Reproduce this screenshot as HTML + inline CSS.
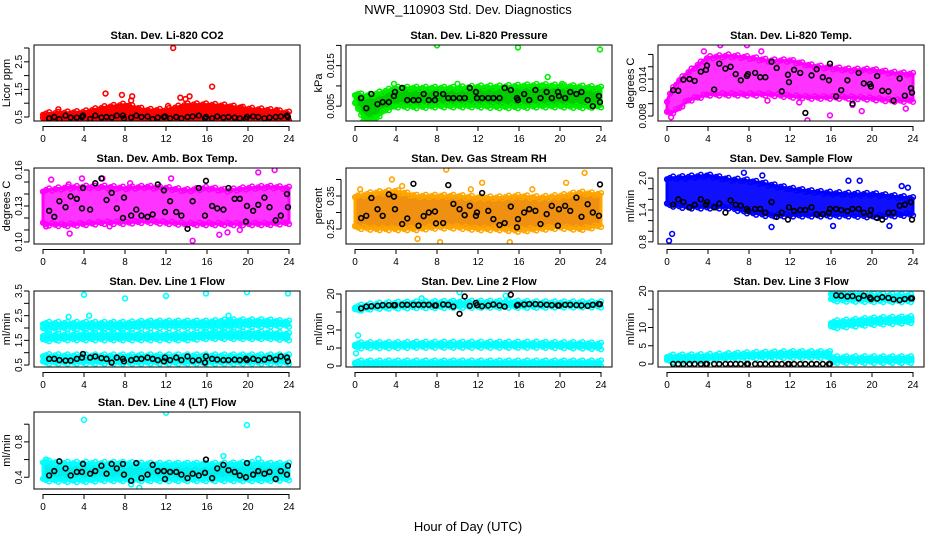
<!DOCTYPE html>
<html><head><meta charset="utf-8"><style>
html,body{margin:0;padding:0;background:#fff}
svg{display:block;font-family:"Liberation Sans",sans-serif}
</style></head><body>
<svg id="chart" width="936" height="540" viewBox="0 0 936 540">
<text x="468" y="14" text-anchor="middle" font-size="13">NWR_110903  Std. Dev. Diagnostics</text>
<text x="468" y="531" text-anchor="middle" font-size="13">Hour of Day (UTC)</text>
</svg>
<script>
const NS="http://www.w3.org/2000/svg";
const svg=document.getElementById('chart');
const xTicks=[0,4,8,12,16,20,24];
const H2=[0,2,4,6,8,10,12,14,16,18,20,22,24];
const H16=[0,0.4,1,2,3,4,6,8,10,12,14,16,18,20,22,24];
const blackHours=[0.6,1.1,1.6,2.2,2.7,3.3,3.8,3.9,4.6,5.1,5.7,6.2,6.7,7.2,7.8,7.9,8.6,9.1,9.6,10.2,10.7,11.2,11.8,11.9,12.4,13.0,13.5,14.1,14.6,15.2,15.8,15.9,16.5,17.0,17.6,18.1,18.7,19.2,19.8,19.9,20.5,21.0,21.6,22.1,22.7,23.2,23.8,23.9];

// Panel 1 CO2
const co2Low=[0.42,0.42,0.42,0.42,0.42,0.42,0.42,0.42,0.42,0.42,0.42,0.42,0.42];
const co2High=[0.62,0.65,0.68,0.85,0.95,0.75,0.75,0.95,0.95,0.9,0.8,0.75,0.65];
const co2Out=[[12.7,3.0],[6.1,1.35],[7.7,1.3],[8.7,1.25],[8.6,1.1],[13.4,1.2],[14.3,1.25],[13.9,1.15],[16.5,1.6],[1.5,0.78],[12.2,0.9],[7.9,0.35],[23.9,0.38],[22.8,0.75],[19.3,0.85]];
const co2Black=[0.45,0.5,0.42,0.55,0.48,0.48,0.5,0.55,0.43,0.55,0.48,0.5,0.48,0.55,0.55,0.45,0.48,0.55,0.5,0.52,0.42,0.48,0.5,0.52,0.45,0.5,0.45,0.5,0.52,0.55,0.45,0.5,0.45,0.52,0.48,0.5,0.48,0.45,0.43,0.5,0.52,0.5,0.45,0.48,0.5,0.52,0.55,0.5];
// Panel 2 pressure
const presLow=[0.0055,0.004,0.0015,0.002,0.004,0.005,0.0048,0.005,0.005,0.005,0.0048,0.0048,0.005,0.005,0.0048,0.005];
const presHigh=[0.008,0.008,0.0075,0.008,0.0088,0.0095,0.0095,0.0095,0.0095,0.0098,0.0098,0.01,0.0102,0.01,0.0098,0.0095];
const presOut=[[8,0.02],[15.9,0.0195],[23.9,0.019],[18.8,0.0122],[3.8,0.0105],[10,0.0105],[20.2,0.0105],[0.8,0.0012],[1.9,0.0015]];
const presBlack=[0.007,0.0045,0.008,0.0055,0.006,0.006,0.0075,0.0085,0.0095,0.0065,0.0065,0.0065,0.008,0.0065,0.0065,0.008,0.008,0.007,0.007,0.007,0.007,0.0095,0.0085,0.007,0.007,0.007,0.007,0.007,0.0095,0.009,0.007,0.0065,0.008,0.0065,0.009,0.007,0.0085,0.007,0.0085,0.0075,0.007,0.0085,0.008,0.0085,0.0065,0.005,0.0075,0.006];
// Panel 3 Li-820 temp
const tempLow=[0.0085,0.0085,0.009,0.0105,0.011,0.0115,0.0115,0.0115,0.0115,0.0112,0.011,0.011,0.011,0.0108,0.0105,0.0105];
const tempHigh=[0.0105,0.012,0.0135,0.015,0.0163,0.0175,0.0178,0.0175,0.017,0.017,0.0162,0.0158,0.0155,0.0155,0.015,0.0148];
const tempOut=[[5.2,0.0195],[7.8,0.0195],[3.6,0.0185],[9.2,0.0185],[13.7,0.0073],[15.9,0.0081],[0.4,0.0078],[18.1,0.0098],[23.3,0.0092],[9.8,0.0105],[19,0.0088],[12.9,0.0102]];
const tempBlack=[0.0122,0.0121,0.0139,0.014,0.0137,0.0152,0.0155,0.0162,0.0123,0.0165,0.0157,0.016,0.0148,0.0138,0.0145,0.0148,0.015,0.0143,0.0143,0.0168,0.0158,0.012,0.0147,0.0135,0.0155,0.015,0.0085,0.0146,0.0156,0.0143,0.0138,0.0165,0.0112,0.0122,0.0138,0.01,0.015,0.0133,0.0132,0.0128,0.0145,0.0121,0.012,0.0105,0.0141,0.0113,0.0125,0.0118];
// Panel 4 amb box temp
const ambLow=[0.115,0.114,0.115,0.116,0.116,0.117,0.116,0.115,0.115,0.115,0.115,0.115,0.116];
const ambHigh=[0.143,0.145,0.146,0.146,0.145,0.146,0.145,0.143,0.145,0.143,0.145,0.146,0.145];
const ambOut=[[0.8,0.152],[2.5,0.148],[3.8,0.153],[5.8,0.153],[8.5,0.149],[12.5,0.153],[21,0.158],[22.6,0.16],[2.6,0.107],[14.6,0.101],[17.2,0.106],[18,0.108],[19.2,0.11],[6.5,0.113],[0.3,0.113]];
const ambBlack=[0.126,0.121,0.134,0.129,0.138,0.136,0.128,0.145,0.127,0.149,0.153,0.135,0.141,0.128,0.12,0.137,0.122,0.127,0.122,0.121,0.123,0.148,0.143,0.125,0.134,0.125,0.122,0.111,0.134,0.145,0.122,0.151,0.13,0.128,0.127,0.145,0.136,0.136,0.117,0.13,0.126,0.131,0.137,0.129,0.118,0.122,0.14,0.129];
// Panel 5 RH
const rhLow=[0.255,0.25,0.25,0.25,0.255,0.255,0.25,0.25,0.245,0.25,0.255,0.25,0.26];
const rhHigh=[0.35,0.36,0.365,0.35,0.35,0.35,0.345,0.345,0.35,0.345,0.35,0.36,0.355];
const rhOut=[[8.9,0.43],[8.3,0.21],[22.4,0.42],[12.4,0.39],[3.6,0.4],[0.5,0.37],[6.1,0.22],[15.1,0.21],[17.3,0.37],[20.6,0.39],[4.6,0.38],[11.3,0.37]];
const rhBlack=[0.283,0.29,0.344,0.31,0.29,0.355,0.348,0.31,0.265,0.282,0.387,0.26,0.289,0.3,0.303,0.267,0.268,0.383,0.326,0.31,0.292,0.32,0.29,0.3,0.359,0.305,0.28,0.262,0.268,0.318,0.255,0.28,0.3,0.31,0.305,0.265,0.295,0.32,0.26,0.31,0.32,0.305,0.345,0.287,0.325,0.3,0.29,0.385];
// Panel 6 sample flow
const sfLow=[1.5,1.45,1.45,1.45,1.35,1.3,1.3,1.3,1.3,1.3,1.28,1.3,1.32];
const sfHigh=[2.0,2.02,2.05,1.98,1.95,1.88,1.8,1.75,1.72,1.7,1.7,1.66,1.62];
const sfOut=[[0.2,0.82],[0.5,0.95],[10.2,1.08],[7.5,2.1],[9.3,2.05],[17.7,1.95],[18.8,1.95],[22.9,1.85],[16.2,1.1],[21.7,1.1],[23.5,1.82]];
const sfBlack=[1.5,1.6,1.55,1.45,1.5,1.6,1.5,1.55,1.45,1.52,1.35,1.58,1.5,1.48,1.42,1.38,1.42,1.42,1.35,1.55,1.27,1.35,1.22,1.45,1.38,1.4,1.4,1.45,1.32,1.32,1.35,1.42,1.42,1.4,1.38,1.42,1.42,1.35,1.3,1.4,1.25,1.22,1.35,1.35,1.48,1.5,1.55,1.22];
// Panel 7 line 1 flow
const l1TopLow=[1.95,2.0,2.0,2.0,2.0,2.05,2.05,2.05,2.05,2.05,2.1,2.1,2.1];
const l1TopHigh=[2.2,2.2,2.2,2.2,2.2,2.25,2.25,2.25,2.25,2.3,2.3,2.3,2.25];
const l1MidLow=[1.5,1.55,1.55,1.55,1.55,1.55,1.55,1.55,1.6,1.6,1.6,1.6,1.55];
const l1MidHigh=[1.72,1.72,1.75,1.75,1.75,1.75,1.75,1.75,1.8,1.8,1.82,1.8,1.75];
const l1BotLow=[0.6,0.6,0.6,0.6,0.6,0.6,0.6,0.6,0.6,0.6,0.6,0.6,0.6];
const l1BotHigh=[0.9,0.88,0.88,0.88,0.88,0.88,0.88,0.88,0.88,0.88,0.88,0.88,0.88];
const l1Out=[[4,3.35],[8,3.2],[12,3.3],[15.9,3.4],[19.9,3.45],[23.9,3.4],[2.5,2.45],[4.5,2.5],[18.1,2.5],[0.1,1.65],[0.2,2.1]];
const l1Black=[0.75,0.75,0.7,0.68,0.68,0.75,0.8,0.95,0.8,0.85,0.78,0.75,0.6,0.8,0.75,0.65,0.7,0.75,0.75,0.8,0.75,0.7,0.65,0.8,0.7,0.8,0.7,0.85,0.68,0.7,0.6,0.85,0.75,0.72,0.7,0.7,0.72,0.7,0.75,0.7,0.75,0.7,0.72,0.78,0.72,0.85,0.8,0.65];
// Panel 8 line 2 flow
const l2TopLow=[15.5,16.2,16.3,16.4,16.4,16.5,16.5,16.5,16.5,16.5,16.6,16.6,16.6];
const l2TopHigh=[16.5,17.2,17.5,17.6,17.7,17.8,17.8,17.8,17.8,17.6,17.6,17.6,17.6];
const l2MidLow=[5.2,5.3,5.3,5.4,5.4,5.4,5.4,5.4,5.4,5.4,5.3,5.2,5.0];
const l2MidHigh=[6.2,6.3,6.3,6.4,6.4,6.4,6.4,6.4,6.4,6.4,6.3,6.3,6.1];
const l2BotLow=[0.3,0.3,0.3,0.3,0.3,0.3,0.3,0.3,0.3,0.3,0.3,0.3,0.3];
const l2BotHigh=[1.2,1.2,1.2,1.2,1.2,1.2,1.2,1.2,1.2,1.2,1.2,1.2,1.2];
const l2Out=[[0.3,8.5],[0.1,3.5],[10.2,20.5],[14.7,19.5],[6.5,18.8]];
const l2Black=[16,16.5,16.6,16.7,16.9,16.9,16.9,16.9,17,17,17,17,17,17,16.8,16.8,17.1,17,16.5,14.5,19.3,16.7,17.5,16.9,16.6,16.8,17.1,16.8,16.5,19.8,16.8,17,17.1,17.2,17.2,17.1,17,16.9,16.8,16.8,17,17,16.9,16.8,16.7,17,17.2,17.2];
// Panel 9 line 3 flow
const l3EarlyHours=[0,4,8,12,16];
const l3LateHours=[16,20,24];
const l3ALow=[0.8,1.3,1.8,2.0,2.0];
const l3AHigh=[2.2,2.4,2.9,3.2,3.2];
const l3BLow=[0.6,0.6,0.6];
const l3BHigh=[1.8,1.8,1.8];
const l3CLow=[10,11,11.6];
const l3CHigh=[11.5,12.4,12.8];
const l3DLow=[17.5,17.3,17.3];
const l3DHigh=[19.5,19.0,18.8];
const l3Out=[];
const l3Black=[0,0,0,0,0,0,0,0,0,0,0,0,0,0,0,0,0,0,0,0,0,0,0,0,0,0,0,0,0,0,0,0,18.8,18.7,18.5,18.6,18,18.7,18.2,17.8,17.9,18.3,18.1,17.7,17.5,17.8,18,18];
// Panel 10 line 4 flow
const l4Low=[0.37,0.36,0.36,0.37,0.37,0.37,0.37,0.37,0.37,0.37,0.37,0.37,0.38];
const l4High=[0.58,0.56,0.56,0.56,0.56,0.55,0.55,0.55,0.55,0.55,0.56,0.55,0.55];
const l4Out=[[4,1.05],[12,1.13],[19.9,0.99],[9.4,0.28],[17.6,0.64],[21,0.61],[0.3,0.6],[8.6,0.32]];
const l4Black=[0.42,0.47,0.58,0.5,0.42,0.46,0.46,0.55,0.44,0.47,0.53,0.44,0.55,0.5,0.55,0.43,0.36,0.56,0.39,0.43,0.54,0.47,0.47,0.38,0.46,0.46,0.43,0.39,0.44,0.42,0.45,0.6,0.39,0.5,0.54,0.48,0.46,0.42,0.4,0.56,0.43,0.47,0.44,0.46,0.38,0.47,0.43,0.53];

const boxTop=[45,168,291,412], boxBot=[121,244,367,489];
const panels=[
 {name:'co2',title:'Stan. Dev. Li-820 CO2',ylab:'Licor ppm',r:0,c:0,ymin:0.355,ymax:3.109,ticks:[0.5,1,1.5,2,2.5,3],labels:[0.5,1.5,2.5],col:'#ff0000',fill:'#ff0000',
  bands:[[H2,co2Low,co2High]],out:co2Out,black:co2Black},
 {name:'pressure',title:'Stan. Dev. Li-820 Pressure',ylab:'kPa',r:0,c:1,ymin:0.00134,ymax:0.0201,ticks:[0.005,0.01,0.015,0.02],labels:[0.005,0.015],col:'#00ee00',fill:'#00cc00',
  bands:[[H16,presLow,presHigh]],out:presOut,black:presBlack},
 {name:'li820-temp',title:'Stan. Dev. Li-820 Temp.',ylab:'degrees C',r:0,c:2,ymin:0.00719,ymax:0.01953,ticks:[0.008,0.01,0.012,0.014,0.016,0.018],labels:[0.008,0.014],lf:3,col:'#ff00ff',fill:'#ff33ff',
  bands:[[H16,tempLow,tempHigh]],out:tempOut,black:tempBlack},
 {name:'amb-temp',title:'Stan. Dev. Amb. Box Temp.',ylab:'degrees C',r:1,c:0,ymin:0.0983,ymax:0.1617,ticks:[0.1,0.11,0.12,0.13,0.14,0.15,0.16],labels:[0.1,0.13,0.16],lf:2,col:'#ff00ff',fill:'#ff33ff',
  bands:[[H2,ambLow,ambHigh]],out:ambOut,black:ambBlack},
 {name:'rh',title:'Stan. Dev. Gas Stream RH',ylab:'percent',r:1,c:1,ymin:0.2045,ymax:0.4348,ticks:[0.25,0.3,0.35,0.4],labels:[0.25,0.35],lf:2,col:'#ffa500',fill:'#f09010',
  bands:[[H2,rhLow,rhHigh]],out:rhOut,black:rhBlack},
 {name:'sample-flow',title:'Stan. Dev. Sample Flow',ylab:'ml/min',r:1,c:2,ymin:0.76,ymax:2.19,ticks:[0.8,1,1.2,1.4,1.6,1.8,2.0],labels:[0.8,1.4,2.0],lf:1,col:'#0000ff',fill:'#1010ff',
  bands:[[H2,sfLow,sfHigh]],out:sfOut,black:sfBlack},
 {name:'line1-flow',title:'Stan. Dev. Line 1 Flow',ylab:'ml/min',r:2,c:0,ymin:0.42,ymax:3.5,ticks:[0.5,1,1.5,2,2.5,3,3.5],labels:[0.5,1.5,2.5,3.5],lf:1,col:'#00ffff',fill:'#00f0f0',
  bands:[[H2,l1TopLow,l1TopHigh],[H2,l1MidLow,l1MidHigh],[H2,l1BotLow,l1BotHigh]],out:l1Out,black:l1Black},
 {name:'line2-flow',title:'Stan. Dev. Line 2 Flow',ylab:'ml/min',r:2,c:1,ymin:-0.28,ymax:20.83,ticks:[0,5,10,15,20],labels:[0,5,10,20],col:'#00ffff',fill:'#00f0f0',
  bands:[[H2,l2TopLow,l2TopHigh],[H2,l2MidLow,l2MidHigh],[H2,l2BotLow,l2BotHigh]],out:l2Out,black:l2Black},
 {name:'line3-flow',title:'Stan. Dev. Line 3 Flow',ylab:'ml/min',r:2,c:2,ymin:-0.82,ymax:20,ticks:[0,5,10,15,20],labels:[0,5,10,20],col:'#00ffff',fill:'#00f0f0',
  bands:[[l3EarlyHours,l3ALow,l3AHigh],[l3LateHours,l3BLow,l3BHigh],[l3LateHours,l3CLow,l3CHigh],[l3LateHours,l3DLow,l3DHigh]],out:l3Out,black:l3Black},
 {name:'line4-flow',title:'Stan. Dev. Line 4 (LT) Flow',ylab:'ml/min',r:3,c:0,ymin:0.267,ymax:1.138,ticks:[0.4,0.6,0.8,1.0],labels:[0.4,0.8],lf:1,col:'#00ffff',fill:'#00f0f0',
  bands:[[H2,l4Low,l4High]],out:l4Out,black:l4Black}
];

function mk(tag,attrs,parent){const e=document.createElementNS(NS,tag);for(const k in attrs)e.setAttribute(k,attrs[k]);parent.appendChild(e);return e;}
function interp(hs,vs,h){for(let i=0;i<hs.length-1;i++){if(h>=hs[i]&&h<=hs[i+1]){const t=(h-hs[i])/(hs[i+1]-hs[i]);return vs[i]+t*(vs[i+1]-vs[i]);}}return vs[vs.length-1];}

panels.forEach(p=>{
  const left=34+312*p.c, right=300+312*p.c, top=boxTop[p.r], bot=boxBot[p.r];
  const x0=left+9, x24=right-11;
  const X=h=>x0+(x24-x0)*h/24;
  const Y=v=>bot-(v-p.ymin)/(p.ymax-p.ymin)*(bot-top);
  const g=mk('g',{},svg);
  
  
  const cp=mk('clipPath',{id:'clip-'+p.name},g);
  mk('rect',{x:left,y:top,width:right-left,height:bot-top},cp);
  const plot=mk('g',{'clip-path':'url(#clip-'+p.name+')'},g);
  
  
  p.bands.forEach((b,bi)=>{
    const [hs,lo,hi]=b;
    let pts=hs.map((h,i)=>X(h).toFixed(1)+','+Y(hi[i]).toFixed(1));
    for(let i=hs.length-1;i>=0;i--)pts.push(X(hs[i]).toFixed(1)+','+Y(lo[i]).toFixed(1));
    const poly=mk('polygon',{points:pts.join(' '),fill:p.fill,stroke:p.col,'stroke-width':3,'stroke-linejoin':'round'},plot);
    
    
    // ragged edge markers along band edges
    const h0=hs[0], h1=hs[hs.length-1];
    let k=0;
    for(let h=h0;h<=h1+1e-6;h+=0.3,k++){
      const off=(k%3)*1.2;
      [[interp(hs,hi,h),-1],[interp(hs,lo,h),1]].forEach(([v,s])=>{
        const c=mk('circle',{cx:X(h),cy:Y(v)+s*(off-1.2),r:2.4,fill:'none',stroke:p.col,'stroke-width':1.5},plot);
        
        
      });
    }
  });
  p.out.forEach(o=>{
    const c=mk('circle',{cx:X(o[0]),cy:Y(o[1]),r:2.4,fill:'none',stroke:p.col,'stroke-width':1.6},plot);
    
    
  });
  p.black.forEach((v,i)=>{
    const c=mk('circle',{cx:X(blackHours[i]),cy:Y(v),r:2.4,fill:'none',stroke:'#000','stroke-width':1.6},plot);
    
    
  });
  const box=mk('rect',{x:left,y:top,width:right-left,height:bot-top,fill:'none',stroke:'#000','stroke-width':1},g);
  
  
  const t=mk('text',{x:(left+right)/2,y:top-6,'text-anchor':'middle','font-size':11,'font-weight':'bold'},g);
  t.textContent=p.title;
  
  
  mk('line',{x1:x0,x2:x24,y1:bot+0.5+5,y2:bot+0.5+5,stroke:'#000'},g);
  xTicks.forEach(h=>{
    mk('line',{x1:X(h),x2:X(h),y1:bot+5,y2:bot+10,stroke:'#000'},g);
    const tx=mk('text',{x:X(h),y:bot+21,'text-anchor':'middle','font-size':10},g);
    tx.textContent=h;
    
    
  });
  const ax=left-5;
  mk('line',{x1:ax,x2:ax,y1:Y(p.ticks[0]),y2:Y(p.ticks[p.ticks.length-1]),stroke:'#000'},g);
  p.ticks.forEach(v=>{mk('line',{x1:ax-5,x2:ax,y1:Y(v),y2:Y(v),stroke:'#000'},g);});
  p.labels.forEach(v=>{
    const s=p.lf!==undefined?v.toFixed(p.lf):String(v);
    const yy=Y(v);
    const ty=mk('text',{x:left-12,y:yy,'text-anchor':'middle','font-size':10,transform:'rotate(-90 '+(left-12)+' '+yy+')'},g);
    ty.textContent=s;
    
    
  });
  const ly=(top+bot)/2;
  const yl=mk('text',{x:left-24,y:ly,'text-anchor':'middle','font-size':11,transform:'rotate(-90 '+(left-24)+' '+ly+')'},g);
  yl.textContent=p.ylab;
  
  
});
</script>
</body></html>
